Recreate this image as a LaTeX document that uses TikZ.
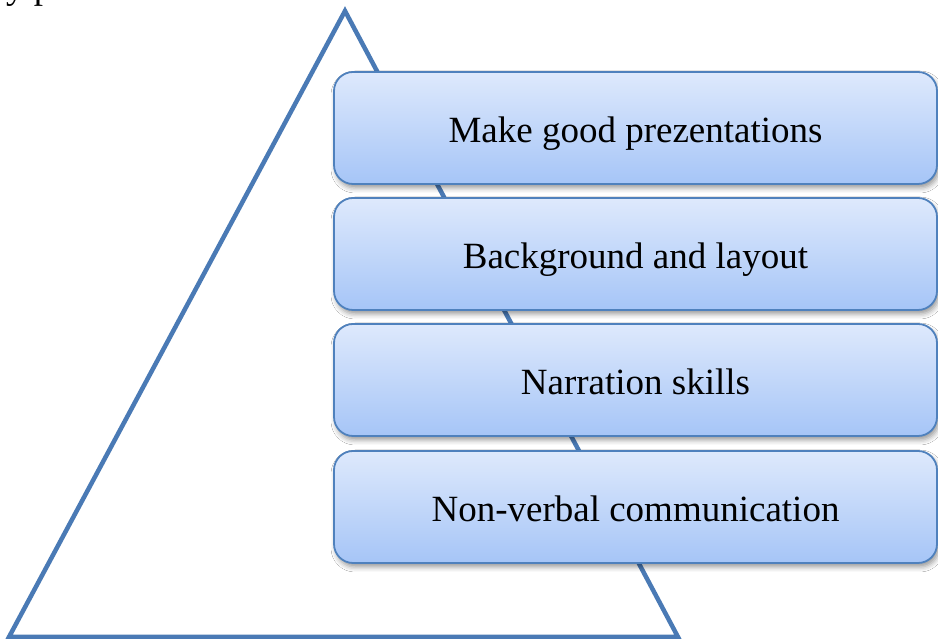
\documentclass[tikz,border=0pt]{standalone}
\usepackage{fontspec}
\setmainfont{Liberation Serif}
\usetikzlibrary{shadows.blur}
\definecolor{tri}{HTML}{4A7AB5}
\definecolor{bord}{HTML}{4F81BD}
\definecolor{topc}{HTML}{DEE9FC}
\definecolor{botc}{HTML}{A6C5F7}
\tikzset{
  levelbox/.style={draw=bord, line width=1.8pt, rounded corners=19pt,
    top color=topc, bottom color=botc,
    minimum width=603pt, minimum height=112pt, inner sep=0pt,
    text height=30pt, text depth=0pt,
    font=\fontsize{37}{42}\selectfont,
    blur shadow={shadow xshift=2pt, shadow yshift=-4pt, shadow blur radius=5pt, shadow opacity=40}},
  pyr/.style={draw=tri, line width=4.5pt, line join=miter}
}
\begin{document}
\begin{tikzpicture}[x=1pt,y=1pt]
\useasboundingbox (0,0) rectangle (938,639);
\clip (0,0) rectangle (938,639);
\fill[white] (0,0) rectangle (938,639);
\node[anchor=base west, inner sep=0pt, font=\fontsize{37}{42}\selectfont] (caption) at (6,640.5) {y processes.};
\coordinate (apex) at (345,628);
\coordinate (bl) at (9,2);
\coordinate (br) at (678,2);
\draw[pyr] (bl) -- (apex) -- (br) -- cycle;
\node[levelbox] (l1) at (635.5,511) {Make good prezentations};
\node[levelbox] (l2) at (635.5,385) {Background and layout};
\node[levelbox] (l3) at (635.5,259) {Narration skills};
\node[levelbox] (l4) at (635.5,132) {Non-verbal communication};
\end{tikzpicture}
\end{document}
